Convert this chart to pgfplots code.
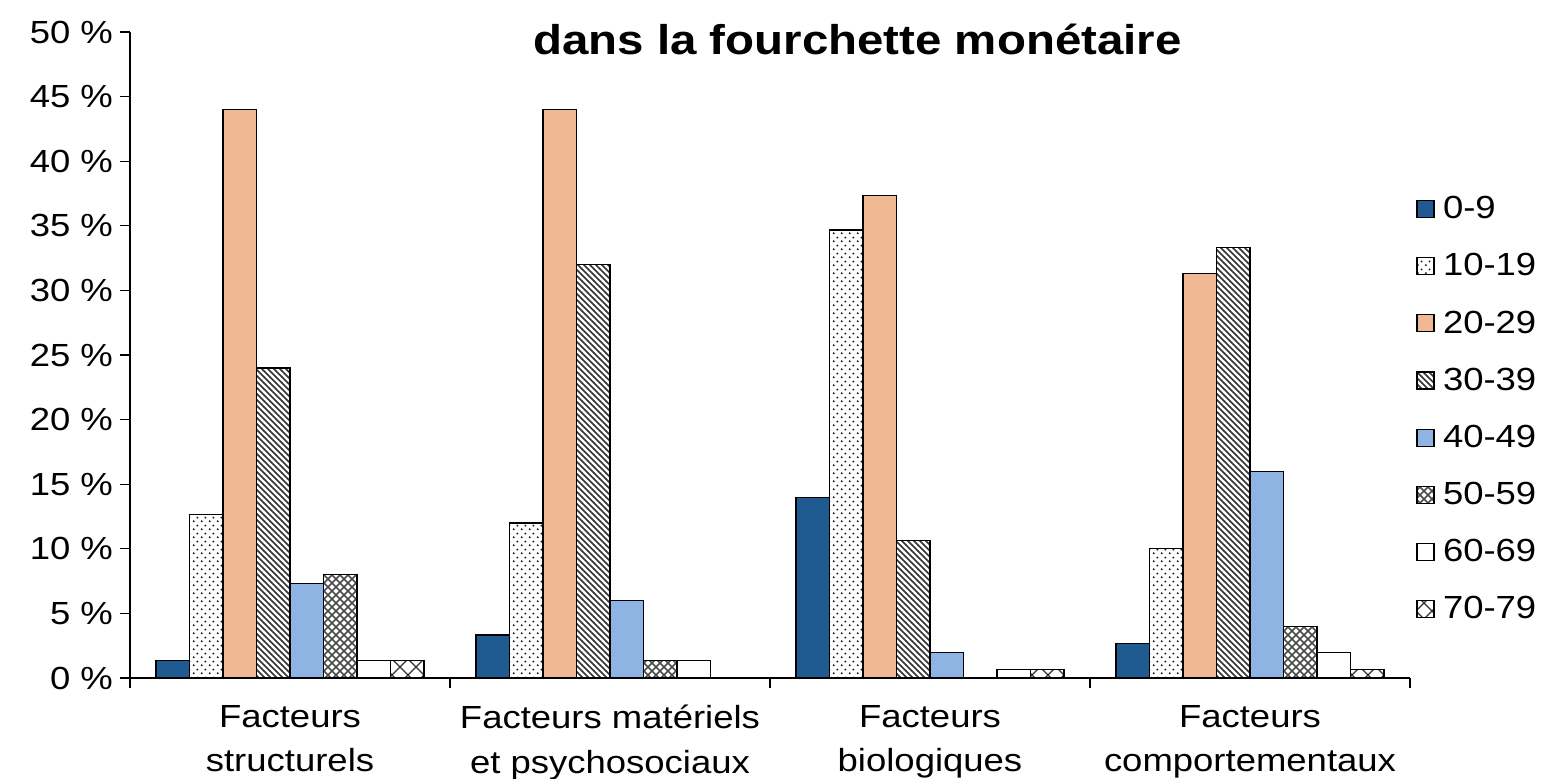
\documentclass[border=0pt]{standalone}
\usepackage{fontspec}
\setmainfont{Liberation Sans}[FakeStretch=1.14]
\usepackage{pgfplots}
\pgfplotsset{compat=1.18}
\usetikzlibrary{patterns}

\definecolor{c0}{RGB}{31,91,145}
\definecolor{c2}{RGB}{240,185,148}
\definecolor{c4}{RGB}{142,180,227}

% small staggered dots (10-19)
\pgfdeclarepatternformonly{sparsedots}{\pgfpointorigin}{\pgfqpoint{4pt}{4pt}}{\pgfqpoint{4pt}{4pt}}{%
  \pgfpathcircle{\pgfqpoint{1pt}{1pt}}{0.6pt}%
  \pgfpathcircle{\pgfqpoint{3pt}{3pt}}{0.6pt}%
  \pgfusepath{fill}}
% heavier diagonal lines (30-39)
\pgfdeclarepatternformonly{nwthick}{\pgfqpoint{-1pt}{-1pt}}{\pgfqpoint{4pt}{4pt}}{\pgfqpoint{3pt}{3pt}}{%
  \pgfsetlinewidth{0.75pt}%
  \pgfpathmoveto{\pgfqpoint{-0.1pt}{3.1pt}}\pgfpathlineto{\pgfqpoint{3.1pt}{-0.1pt}}%
  \pgfusepath{stroke}}
% dense diagonal grid (50-59)
\pgfdeclarepatternformonly{densegrid}{\pgfqpoint{-1pt}{-1pt}}{\pgfqpoint{5pt}{5pt}}{\pgfqpoint{4pt}{4pt}}{%
  \pgfsetlinewidth{0.85pt}%
  \pgfpathmoveto{\pgfqpoint{0pt}{0pt}}\pgfpathlineto{\pgfqpoint{4pt}{4pt}}%
  \pgfpathmoveto{\pgfqpoint{0pt}{4pt}}\pgfpathlineto{\pgfqpoint{4pt}{0pt}}%
  \pgfusepath{stroke}}
% large crosses (70-79)
\pgfdeclarepatternformonly{bigcross}{\pgfqpoint{-0.5pt}{-0.5pt}}{\pgfqpoint{8.5pt}{8.5pt}}{\pgfqpoint{8pt}{8pt}}{%
  \pgfsetlinewidth{0.6pt}%
  \pgfpathmoveto{\pgfqpoint{0pt}{0pt}}\pgfpathlineto{\pgfqpoint{8pt}{8pt}}%
  \pgfpathmoveto{\pgfqpoint{0pt}{8pt}}\pgfpathlineto{\pgfqpoint{8pt}{0pt}}%
  \pgfusepath{stroke}}

\begin{document}
\begin{tikzpicture}
\useasboundingbox (-65pt,-50.5pt) rectangle (707pt,339pt);
\begin{axis}[
    scale only axis, width=640pt, height=323pt,
    ybar=0pt, bar width=16.75pt,
    xmin=-0.5, xmax=3.5, ymin=0, ymax=50,
    axis x line=bottom, axis y line=left,
    axis line style={-, line width=0.6pt},
    tick align=outside, major tick length=5pt,
    tick style={line width=0.6pt, black},
    /pgf/number format/assume math mode=true,
    tick label style={font=\fontsize{16}{22.3}\selectfont},
    ytick={0,5,...,50},
    yticklabel={\pgfmathprintnumber{\tick}~\%},
    xtick={-0.5,0.5,1.5,2.5,3.5}, xticklabels={},
    extra x ticks={0,1,2,3},
    extra x tick labels={{Facteurs\\structurels},{Facteurs matériels\\et psychosociaux},{Facteurs\\biologiques},{Facteurs\\comportementaux}},
    extra x tick style={major tick length=0pt, xticklabel style={align=center, yshift=-10pt}},
    every axis plot/.append style={draw=black, line width=0.6pt},
    legend image code/.code={\draw[#1] (0pt,-4.25pt) rectangle (8.5pt,4.25pt);
        \path[draw=none, fill=none] (11pt,0pt);},
    legend style={draw=none, fill=none, font=\fontsize{16}{19}\selectfont,
        row sep=11.9pt, at={(axis description cs:1.0,0.7585)}, anchor=north west},
    legend cell align=left,
]
\addplot[fill=c0] coordinates {(0,1.33) (1,3.33) (2,14) (3,2.67)};
\addlegendentry{0-9}
\addplot[pattern=sparsedots, pattern color=black!85] coordinates {(0,12.67) (1,12) (2,34.67) (3,10)};
\addlegendentry{10-19}
\addplot[fill=c2] coordinates {(0,44) (1,44) (2,37.33) (3,31.33)};
\addlegendentry{20-29}
\addplot[pattern=nwthick, pattern color=black!80] coordinates {(0,24) (1,32) (2,10.67) (3,33.33)};
\addlegendentry{30-39}
\addplot[fill=c4] coordinates {(0,7.33) (1,6) (2,2) (3,16)};
\addlegendentry{40-49}
\addplot[pattern=densegrid, pattern color=black!70] coordinates {(0,8) (1,1.33) (3,4)};
\addlegendentry{50-59}
\addplot[fill=white] coordinates {(0,1.33) (1,1.33) (2,0.67) (3,2)};
\addlegendentry{60-69}
\addplot[pattern=bigcross, pattern color=black!80] coordinates {(0,1.33) (2,0.67) (3,0.67)};
\addlegendentry{70-79}
\end{axis}
\node[anchor=base, font=\fontsize{20.8}{24}\selectfont\bfseries] at (363.75pt,311.5pt) {dans la fourchette monétaire};
\end{tikzpicture}
\end{document}
